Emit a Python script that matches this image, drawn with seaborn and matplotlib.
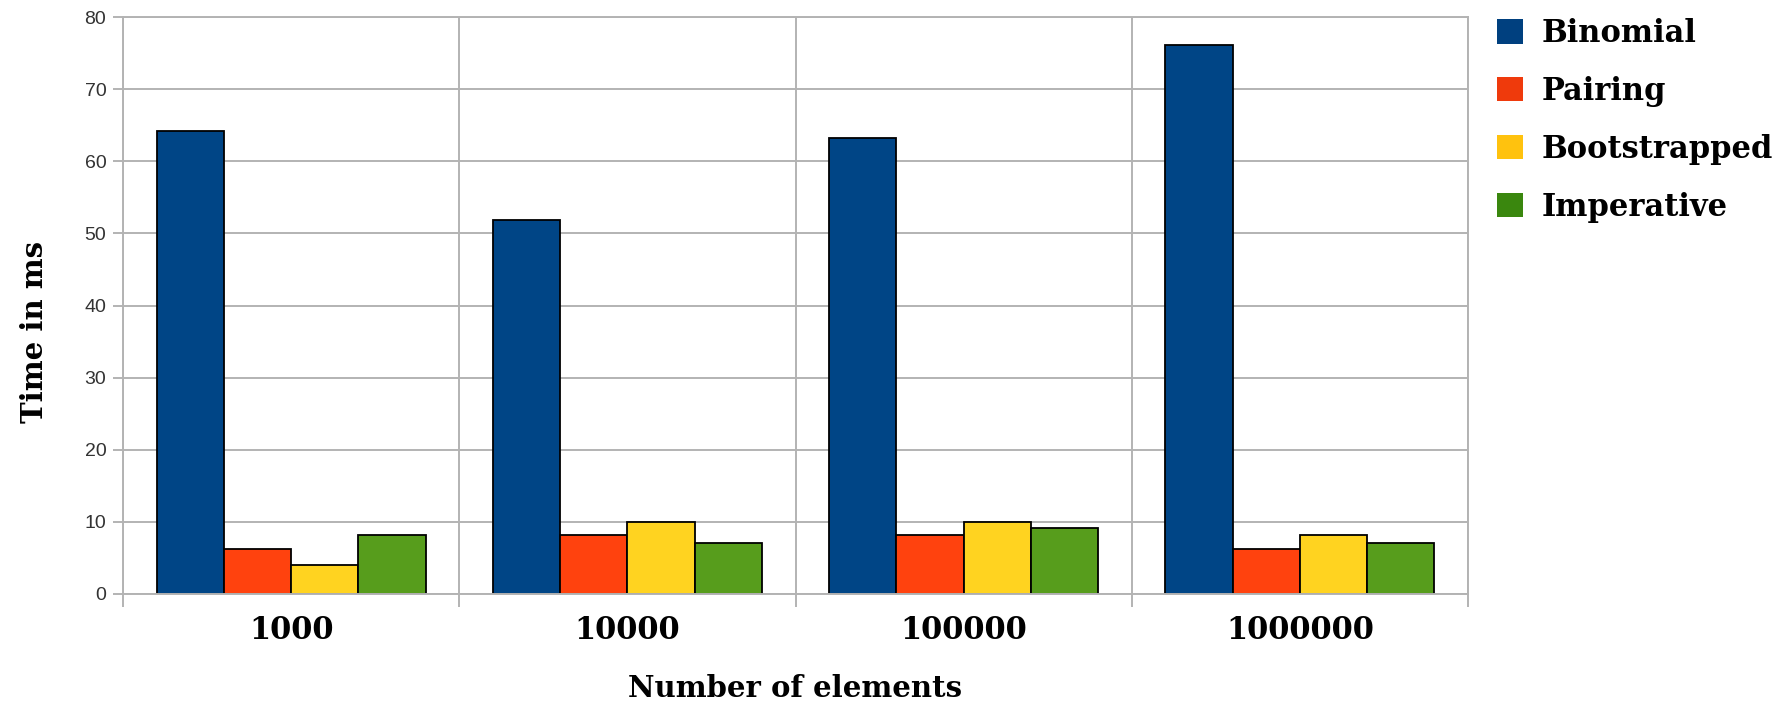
import matplotlib
matplotlib.use("Agg")
import matplotlib.pyplot as plt
from matplotlib.patches import Patch
import numpy as np
import pandas as pd
import seaborn as sns

# Benchmark data: time (ms) per heap implementation and input size
sizes = ["1000", "10000", "100000", "1000000"]
binomial = [64.2, 51.9, 63.2, 76.1]
pairing = [6.2, 8.2, 8.2, 6.2]
bootstrapped = [4.0, 10.0, 10.0, 8.2]
imperative = [8.2, 7.1, 9.2, 7.1]
series_names = ["Binomial", "Pairing", "Bootstrapped", "Imperative"]

bar_colors = ["#004586", "#ff420e", "#ffd320", "#579d1c"]
legend_colors = ["#00407f", "#ef3a0c", "#ffc20e", "#3a870e"]

df = pd.DataFrame({
    "size": sizes * 4,
    "time": binomial + pairing + bootstrapped + imperative,
    "impl": [n for n in series_names for _ in sizes],
})

sns.set_style("white")
plt.rcParams["text.color"] = "black"
plt.rcParams["axes.labelcolor"] = "black"
plt.rcParams["xtick.labelcolor"] = "black"
serif_bold = {"family": "DejaVu Serif", "weight": "bold"}

fig = plt.figure(figsize=(17.91, 7.05), dpi=100)
ax = fig.add_axes([123 / 1791, 1 - 594 / 705, (1468 - 123) / 1791, (594 - 17) / 705])

sns.barplot(data=df, x="size", y="time", hue="impl", order=sizes,
            hue_order=series_names, palette=bar_colors, saturation=1,
            width=0.8, edgecolor="black", linewidth=1.3, legend=False, ax=ax)

grid_c = "#b3b3b3"
ax.set_xlim(-0.5, 3.5)
ax.set_ylim(0, 80)
ax.set_yticks(np.arange(0, 81, 10))
ax.set_axisbelow(True)
ax.yaxis.grid(True, color=grid_c, linewidth=1.4)
ax.set_xticks(np.arange(-0.5, 3.6, 1.0), minor=True)
ax.xaxis.grid(True, which="minor", color=grid_c, linewidth=1.4)
ax.xaxis.grid(False, which="major")
for s in ax.spines.values():
    s.set_color(grid_c)
    s.set_linewidth(1.4)

ax.tick_params(axis="y", which="major", direction="out", length=7, width=1.4,
               color=grid_c, labelcolor="#333333", pad=5, left=True)
ax.tick_params(axis="x", which="major", length=0, pad=15, labelcolor="black")
ax.tick_params(axis="x", which="minor", direction="out", length=9, width=1.4,
               color=grid_c, bottom=True)
for lbl in ax.get_yticklabels():
    lbl.set_fontfamily("Liberation Sans")
    lbl.set_fontsize(14)
for lbl in ax.get_xticklabels():
    lbl.set_fontfamily("DejaVu Serif")
    lbl.set_fontweight("bold")
    lbl.set_fontsize(22)

ax.set_xlabel("Number of elements", fontsize=21, labelpad=20, color="black",
              **serif_bold)
ax.set_ylabel("Time in ms", fontsize=21, color="black", **serif_bold)
ax.yaxis.set_label_coords(-0.055, 0.454)

handles = [Patch(facecolor=c, edgecolor="none") for c in legend_colors]
leg = fig.legend(handles, series_names, loc="upper left",
                 bbox_to_anchor=(1497 / 1791, 1 - 18 / 705), frameon=False,
                 prop={"family": "DejaVu Serif", "weight": "bold", "size": 22},
                 handlelength=0.85, handleheight=0.85, handletextpad=0.6,
                 labelspacing=0.88, borderpad=0, borderaxespad=0)
for t in leg.get_texts():
    t.set_color("black")

fig.savefig("out.png", dpi=100, facecolor="white")
